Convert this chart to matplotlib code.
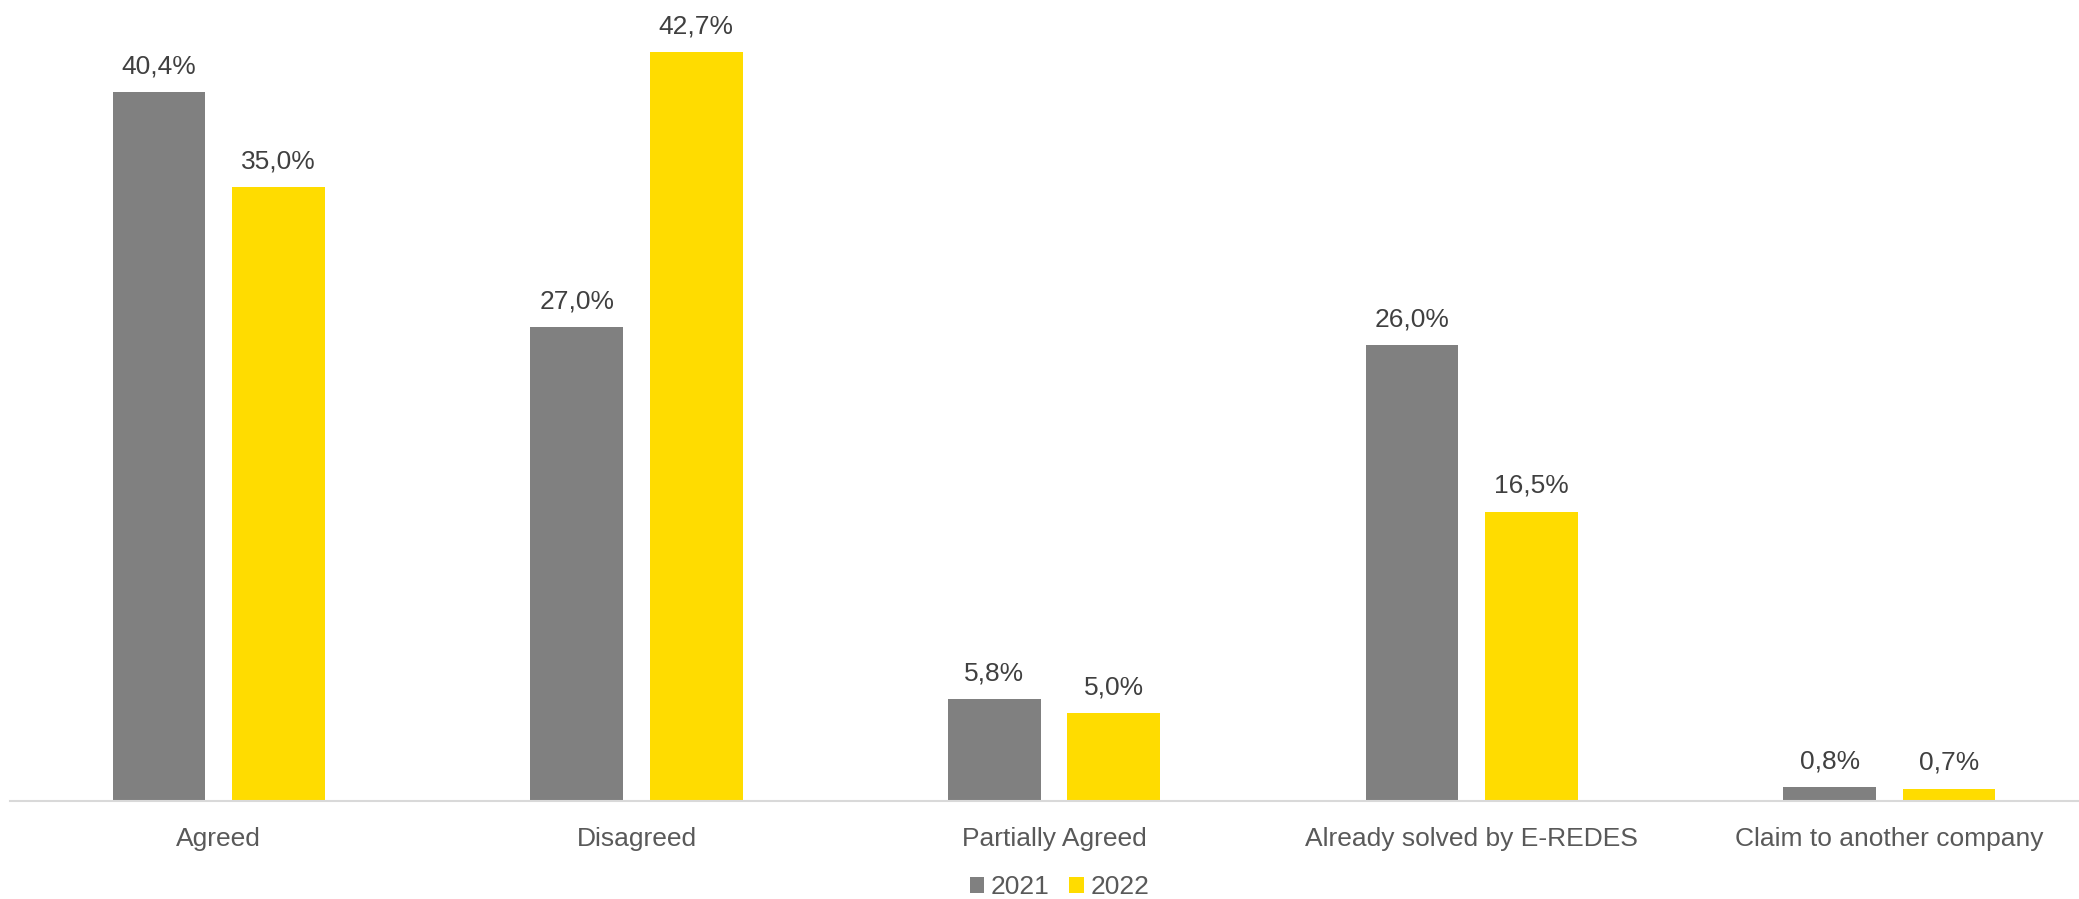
import matplotlib
matplotlib.use("Agg")
import matplotlib.pyplot as plt
from matplotlib.patches import Patch
import numpy as np

plt.rcParams['font.family'] = ['Liberation Sans', 'DejaVu Sans']

categories = ["Agreed", "Disagreed", "Partially Agreed",
              "Already solved by E-REDES", "Claim to another company"]
series_names = ["2021", "2022"]
values_2021 = [40.4, 27.0, 5.8, 26.0, 0.8]
values_2022 = [35.0, 42.7, 5.0, 16.5, 0.7]

gray = "#808080"
yellow = "#FFDC00"
label_color = "#404040"
tick_color = "#595959"

W, H = 2079, 899
fig = plt.figure(figsize=(W / 100, H / 100), dpi=100)
ax = fig.add_axes([10 / W, (H - 801) / H, 1 - 10 / W, 45 * 17.54 / H])

x = np.arange(len(categories))
bw = 0.222
off = 0.143
b1 = ax.bar(x - off, values_2021, bw, color=gray, linewidth=0)
b2 = ax.bar(x + off, values_2022, bw, color=yellow, linewidth=0)

fmt = lambda v: f"{v:.1f}".replace(".", ",") + "%"
for bars, vals in ((b1, values_2021), (b2, values_2022)):
    ax.bar_label(bars, labels=[fmt(v) for v in vals], padding=10,
                 fontsize=19, color=label_color)

ax.set_xlim(-0.5, 4.454)
ax.set_ylim(0, 45)
ax.set_xticks(x)
ax.set_xticklabels(categories, fontsize=19, color=tick_color)
ax.tick_params(axis='x', length=0, pad=19)
ax.set_yticks([])
for s in ("top", "right", "left"):
    ax.spines[s].set_visible(False)
ax.spines["bottom"].set_color("#D9D9D9")
ax.spines["bottom"].set_linewidth(1.5)

handles = [Patch(color=gray, linewidth=0), Patch(color=yellow, linewidth=0)]
leg = fig.legend(handles, series_names, loc="center",
                 bbox_to_anchor=(1059.5 / W, 1 - 887 / H), ncol=2,
                 frameon=False, fontsize=19, handlelength=0.55,
                 handleheight=0.55, handletextpad=0.25, columnspacing=0.75)
for t in leg.get_texts():
    t.set_color(tick_color)

fig.savefig("out.png", dpi=100)
